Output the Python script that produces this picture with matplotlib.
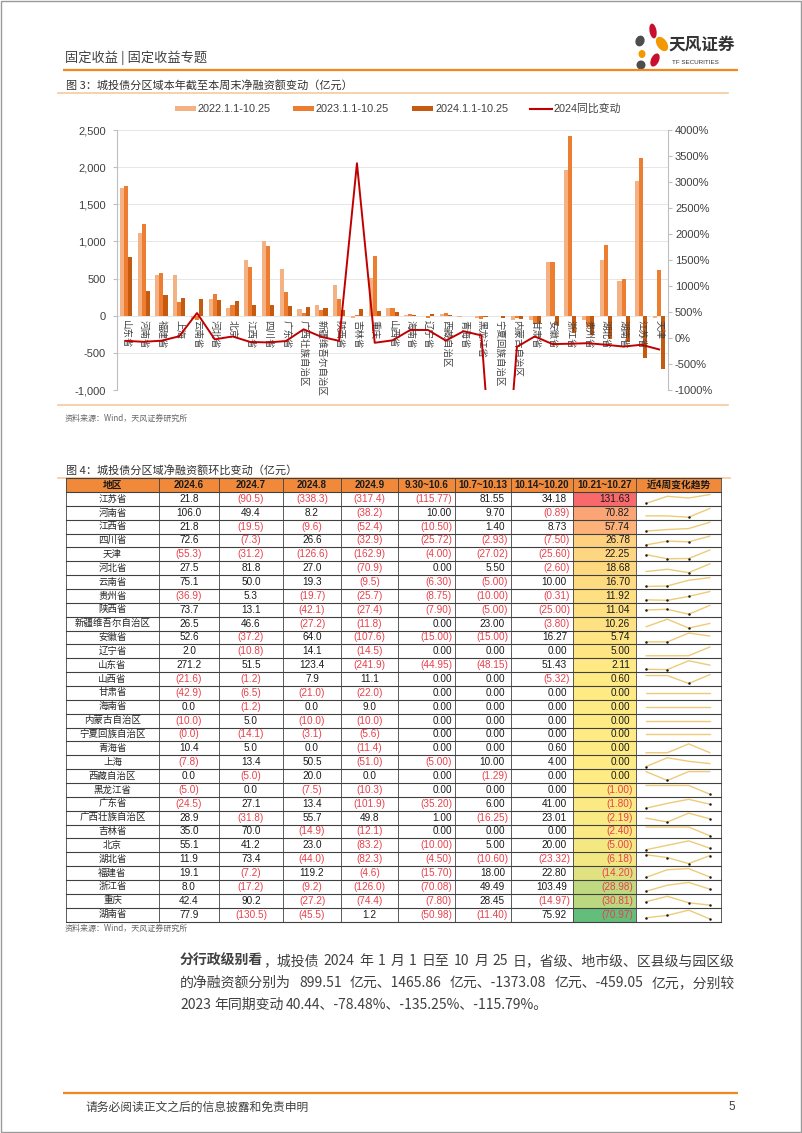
import matplotlib
matplotlib.use('Agg')
import matplotlib.pyplot as plt
import numpy as np
from matplotlib.patches import Rectangle, Ellipse

CJK = ['Noto Sans CJK SC', 'DejaVu Sans']
NUM = ['Liberation Sans', 'Noto Sans CJK SC', 'DejaVu Sans']
plt.rcParams['font.family'] = NUM

# ---------------- Chart data (Fig. 3) ----------------
regions = ['山东省', '河南省', '福建省', '上海', '云南省', '河北省', '北京', '江西省', '四川省', '广东省',
           '广西壮族自治区', '新疆维吾尔自治区', '陕西省', '吉林省', '重庆', '山西省', '海南省', '辽宁省',
           '西藏自治区', '青海省', '黑龙江省', '宁夏回族自治区', '内蒙古自治区', '甘肃省', '安徽省', '浙江省',
           '贵州省', '湖北省', '湖南省', '江苏省', '天津']
v2022 = [1717, 1108, 547, 543, -40, 229, 103, 753, 1009, 623, 94, 139, 408, -36, 511, 99, 5, -5, 22, -18,
         -30, -5, -54, -55, 720, 1955, -60, 753, 464, 1818, -30]
v2023 = [1740, 1238, 574, 179, -60, 287, 148, 655, 942, 318, 42, 81, 220, 3, 803, 99, 22, -36, 36, -5,
         -45, -5, -25, -108, 720, 2422, -150, 946, 500, 2120, 618]
v2024 = [789, 332, 278, 238, 229, 211, 193, 148, 143, 130, 112, 99, 81, 90, 67, 54, 3, 22, 13, -4,
         -18, -25, -40, -100, -121, -233, -255, -310, -350, -572, -717]
yoy = [-55, -73, -52, 33, 480, -26, 30, -77, -85, -59, 167, 22, -55, 3360, -92, -45, 154, 154, -50, 130,
       50, -4500, -170, 30, -117, -110, -100, -130, -165, -130, -220]
series_names = ['2022.1.1-10.25', '2023.1.1-10.25', '2024.1.1-10.25', '2024同比变动']
c22, c23, c24, cline = '#F4B183', '#ED7D31', '#C55A11', '#C00000'

# ---------------- Table data (Fig. 4) ----------------
tbl_cols = ['地区', '2024.6', '2024.7', '2024.8', '2024.9', '9.30~10.6', '10.7~10.13', '10.14~10.20',
            '10.21~10.27', '近4周变化趋势']
tbl_regions = ['江苏省', '河南省', '江西省', '四川省', '天津', '河北省', '云南省', '贵州省', '陕西省',
               '新疆维吾尔自治区', '安徽省', '辽宁省', '山东省', '山西省', '甘肃省', '海南省', '内蒙古自治区',
               '宁夏回族自治区', '青海省', '上海', '西藏自治区', '黑龙江省', '广东省', '广西壮族自治区', '吉林省',
               '北京', '湖北省', '福建省', '浙江省', '重庆', '湖南省']
m6 = [21.8, 106.0, 21.8, 72.6, -55.3, 27.5, 75.1, -36.9, 73.7, 26.5, 52.6, 2.0, 271.2, -21.6, -42.9, 0.0,
      -10.0, -0.04, 10.4, -7.8, 0.0, -5.0, -24.5, 28.9, 35.0, 55.1, 11.9, 19.1, 8.0, 42.4, 77.9]
m7 = [-90.5, 49.4, -19.5, -7.3, -31.2, 81.8, 50.0, 5.3, 13.1, 46.6, -37.2, -10.8, 51.5, -1.2, -6.5, -1.2,
      5.0, -14.1, 5.0, 13.4, -5.0, 0.0, 27.1, -31.8, 70.0, 41.2, 73.4, -7.2, -17.2, 90.2, -130.5]
m8 = [-338.3, 8.2, -9.6, 26.6, -126.6, 27.0, 19.3, -19.7, -42.1, -27.2, 64.0, 14.1, 123.4, 7.9, -21.0, 0.0,
      -10.0, -3.1, 0.0, 50.5, 20.0, -7.5, 13.4, 55.7, -14.9, 23.0, -44.0, 119.2, -9.2, -27.2, -45.5]
m9 = [-317.4, -38.2, -52.4, -32.9, -162.9, -70.9, -9.5, -25.7, -27.4, -11.8, -107.6, -14.5, -241.9, 11.1,
      -22.0, 9.0, -10.0, -5.6, -11.4, -51.0, 0.0, -10.3, -101.9, 49.8, -12.1, -83.2, -82.3, -4.6, -126.0,
      -74.4, 1.2]
w1 = [-115.77, 10.00, -10.50, -25.72, -4.00, 0.00, -6.30, -8.75, -7.90, 0.00, -15.00, 0.00, -44.95, 0.00,
      0.00, 0.00, 0.00, 0.00, 0.00, -5.00, 0.00, 0.00, -35.20, 1.00, 0.00, -10.00, -4.50, -15.70, -70.08,
      -7.80, -50.98]
w2 = [81.55, 9.70, 1.40, -2.93, -27.02, 5.50, -5.00, -10.00, -5.00, 23.00, -15.00, 0.00, -48.15, 0.00, 0.00,
      0.00, 0.00, 0.00, 0.00, 10.00, -1.29, 0.00, 6.00, -16.25, 0.00, 5.00, -10.60, 18.00, 49.49, 28.45,
      -11.40]
w3 = [34.18, -0.89, 8.73, -7.50, -25.60, -2.60, 10.00, -0.31, -25.00, -3.80, 16.27, 0.00, 51.43, -5.32,
      0.00, 0.00, 0.00, 0.00, 0.60, 4.00, 0.00, 0.00, 41.00, 23.01, 0.00, 20.00, -23.32, 22.80, 103.49,
      -14.97, 75.92]
w4 = [131.63, 70.82, 57.74, 26.78, 22.25, 18.68, 16.70, 11.92, 11.04, 10.26, 5.74, 5.00, 2.11, 0.60, 0.00,
      0.00, 0.00, 0.00, 0.00, 0.00, 0.00, -1.00, -1.80, -2.19, -2.40, -5.00, -6.18, -14.20, -28.98, -30.81,
      -70.97]

W, H = 802, 1133
fig = plt.figure(figsize=(W / 100, H / 100), dpi=100, facecolor='white')
pg = fig.add_axes([0, 0, 1, 1])
pg.set_xlim(0, W)
pg.set_ylim(H, 0)
pg.axis('off')

GRAY = '#404040'
ORANGE = '#F0881E'

# page frame
pg.add_patch(Rectangle((0.5, 0.5), W - 2, H - 1.5, fill=False, ec='#9A9A9A', lw=1))

# ---------- page header ----------
pg.text(65, 58, '固定收益 | 固定收益专题', family=CJK, fontsize=9.5, color=GRAY, va='center', ha='left')
pg.plot([63, 738], [70, 70], color=ORANGE, lw=1.6, solid_capstyle='butt')
# logo
for (cx, cy, w, h, ang, col) in [(653, 31, 7, 15, -10, '#C8102E'), (662, 44, 10, 16, -35, '#F39800'),
                                  (640, 41, 9, 11, 20, '#4D4D4D'), (642, 54, 7, 8, 0, '#F39800'),
                                  (655, 60, 8, 14, 25, '#C8102E'), (641, 65, 9, 9, 0, '#4D4D4D')]:
    pg.add_patch(Ellipse((cx, cy), w, h, angle=ang, color=col, lw=0))
pg.text(668, 45, '天风证券', family=CJK, fontsize=12, fontweight='bold', color='#333333', va='center', ha='left')
pg.text(672, 62, 'TF SECURITIES', fontsize=4.5, color='#333333', va='center', ha='left')

# ---------- Figure 3 ----------
pg.text(66, 85, '图 3：城投债分区域本年截至本周末净融资额变动（亿元）', family=CJK, fontsize=8, color='#333333',
        va='center', ha='left')
pg.plot([58, 728], [93, 93], color='#F6C9A0', lw=1.2)
pg.plot([58, 728], [405, 405], color='#F6C9A0', lw=1.2)

# legend
lx = [(175, series_names[0], c22), (293, series_names[1], c23), (412, series_names[2], c24)]
for x0, name, col in lx:
    pg.add_patch(Rectangle((x0, 106), 21, 4.5, color=col, lw=0))
    pg.text(x0 + 23, 108.5, name, fontsize=7.8, color=GRAY, va='center', ha='left')
pg.plot([530, 552], [108.5, 108.5], color=cline, lw=1.5)
pg.text(554, 108.5, series_names[3], family=NUM, fontsize=7.8, color=GRAY, va='center', ha='left')

ax = fig.add_axes([117 / W, 1 - 390 / H, 551 / W, 260 / H])
x = np.arange(len(regions))
bw = 0.23
ax.bar(x - bw, v2022, bw, color=c22, zorder=2)
ax.bar(x, v2023, bw, color=c23, zorder=2)
ax.bar(x + bw, v2024, bw, color=c24, zorder=2)
ax.set_xlim(-0.5, len(regions) - 0.5)
ax.set_ylim(-1000, 2500)
ax.set_yticks(np.arange(-1000, 2501, 500))
ax.set_yticklabels([f'{v:,.0f}' for v in np.arange(-1000, 2501, 500)])
ax.yaxis.grid(True, color='#E6E6E6', lw=0.7)
ax.set_axisbelow(True)
ax.set_xticks([])
for s in ['top', 'bottom', 'right']:
    ax.spines[s].set_visible(False)
ax.spines['left'].set_color('#BFBFBF')
ax.tick_params(axis='y', length=3, color='#BFBFBF', labelsize=8, labelcolor='#404040', pad=5)
ax.patch.set_alpha(0)
for i, name in enumerate(regions):
    ax.annotate(name, (i, 0), xytext=(0, -3), textcoords='offset points', rotation=-90,
                ha='center', va='top', fontsize=6.8, family=CJK, color=GRAY, zorder=5,
                annotation_clip=False)

ax2 = ax.twinx()
ax2.plot(x, yoy, color=cline, lw=1.4, zorder=4)
ax2.set_ylim(-1000, 4000)
ax2.set_yticks(np.arange(-1000, 4001, 500))
ax2.set_yticklabels([f'{v:.0f}%' for v in np.arange(-1000, 4001, 500)])
for s in ['top', 'bottom', 'left']:
    ax2.spines[s].set_visible(False)
ax2.spines['right'].set_color('#BFBFBF')
ax2.tick_params(axis='y', length=3, color='#BFBFBF', labelsize=8, labelcolor='#404040', pad=2)

pg.text(65, 418, '资料来源：Wind，天风证券研究所', family=CJK, fontsize=5.8, color='#666666', va='center')

# ---------- Figure 4 table ----------
pg.text(66, 470, '图 4：城投债分区域净融资额环比变动（亿元）', family=CJK, fontsize=8, color='#333333',
        va='center', ha='left')
pg.plot([58, 730], [478, 478], color='#F6C9A0', lw=1.2)

colx = [66, 159, 219, 283, 341, 398, 455, 511, 573, 636, 721]
top = 478
hh = 14
n = len(tbl_regions)
rh = (921.5 - top - hh) / n

pg.add_patch(Rectangle((colx[0], top), colx[-1] - colx[0], hh, color='#F08A3A', lw=0))
for j, name in enumerate(tbl_cols):
    pg.text((colx[j] + colx[j + 1]) / 2, top + hh / 2, name, family=NUM if j in (1, 2, 3, 4, 5, 6, 7, 8) else CJK,
            fontsize=7, fontweight='bold', color='#1A1A1A', ha='center', va='center')

RED, YEL, GRN = np.array([248, 105, 107]) / 255, np.array([255, 235, 132]) / 255, np.array([99, 190, 123]) / 255
vmax, vmin, vmid = max(w4), min(w4), float(np.median(w4))


def heat(v):
    if v >= vmid:
        t = (v - vmid) / (vmax - vmid)
        return YEL + (RED - YEL) * t
    t = (vmid - v) / (vmid - vmin)
    return YEL + (GRN - YEL) * t


def fmt(v, d):
    s = f'{abs(v):.{d}f}'
    return f'({s})' if v < 0 else s


NEG = '#E8414B'
monthly = [m6, m7, m8, m9]
weekly = [w1, w2, w3, w4]
for i, reg in enumerate(tbl_regions):
    y0 = top + hh + i * rh
    yc = y0 + rh / 2
    pg.add_patch(Rectangle((colx[8], y0), colx[9] - colx[8], rh, color=heat(w4[i]), lw=0))
    pg.text((colx[0] + colx[1]) / 2, yc, reg, family=CJK, fontsize=6.8, color='#262626', ha='center', va='center')
    for k, arr in enumerate(monthly):
        v = arr[i]
        pg.text((colx[k + 1] + colx[k + 2]) / 2, yc, fmt(v, 1), fontsize=7.2,
                color=NEG if v < 0 else '#1A1A1A', ha='center', va='center')
    for k, arr in enumerate(weekly):
        v = arr[i]
        right = colx[k + 6]
        pad = 3 if (v < 0 or k == 0) else 6
        pg.text(right - pad, yc, fmt(v, 2), fontsize=7.2,
                color=NEG if v < 0 else '#1A1A1A', ha='right', va='center')
    # sparkline
    vals = np.array([w1[i], w2[i], w3[i], w4[i]])
    xs = np.linspace(646, 710, 4)
    ytop, ybot = y0 + 2.5, y0 + rh - 2.5
    lo, hi = vals.min(), vals.max()
    if hi > lo:
        ys = ybot - (vals - lo) / (hi - lo) * (ybot - ytop)
    else:
        ys = np.full(4, (ytop + ybot) / 2)
    pg.plot(xs, ys, color='#EDCB78', lw=1.0, solid_capstyle='round')
    neg = vals < 0
    pg.plot(xs[neg], ys[neg], 'o', ms=1.8, color='#1A1A1A', mec='none')

# grid lines
bottom = top + hh + n * rh
for i in range(n + 2):
    yy = top if i == 0 else top + hh + (i - 1) * rh
    pg.plot([colx[0], colx[-1]], [yy, yy], color='#404040', lw=0.8)
for xx in colx:
    pg.plot([xx, xx], [top, bottom], color='#404040', lw=0.6)

pg.text(65, 928, '资料来源：Wind，天风证券研究所', family=CJK, fontsize=5.8, color='#666666', va='center')

# ---------- paragraph ----------
renderer = fig.canvas.get_renderer()


def place_tokens(y, tokens, x0, x1, fs, justify=True, gap_default=4):
    arts, widths = [], []
    for tok in tokens:
        segs, tw = [], 0
        for s, wgt in tok:
            t = pg.text(0, y, s, family=CJK, fontsize=fs, fontweight=wgt, color='#404040',
                        va='center', ha='left')
            wpx = t.get_window_extent(renderer).width
            segs.append((t, wpx))
            tw += wpx
        arts.append(segs)
        widths.append(tw)
    gap = (x1 - x0 - sum(widths)) / (len(tokens) - 1) if justify else gap_default
    xx = x0
    for segs, tw in zip(arts, widths):
        for t, wpx in segs:
            t.set_x(xx)
            xx += wpx
        xx += gap


FS = 10
N = 'normal'
line1 = [[('分行政级别看', 'bold'), ('，城投债', N)], [('2024', N)], [('年', N)], [('1', N)], [('月', N)],
         [('1', N)], [('日至', N)], [('10', N)], [('月', N)], [('25', N)], [('日，省级、地市级、区县级与园区级', N)]]
line2 = [[('的净融资额分别为', N)], [('899.51', N)], [('亿元、1465.86', N)], [('亿元、-1373.08', N)],
         [('亿元、-459.05', N)], [('亿元，分别较', N)]]
line3 = [[('2023', N)], [('年同期变动', N)], [('40.44、-78.48%、-135.25%、-115.79%。', N)]]
place_tokens(961, line1, 180, 735, FS)
place_tokens(983, line2, 180, 735, FS)
place_tokens(1005, line3, 180, 735, FS, justify=False, gap_default=3)

# ---------- footer ----------
pg.plot([63, 738], [1093, 1093], color=ORANGE, lw=1.6, solid_capstyle='butt')
pg.text(86, 1107, '请务必阅读正文之后的信息披露和免责申明', family=CJK, fontsize=8.5, color='#404040', va='center')
pg.text(735, 1107, '5', fontsize=8.5, color='#404040', va='center', ha='right')

fig.savefig('out.png', dpi=100, facecolor='white')
